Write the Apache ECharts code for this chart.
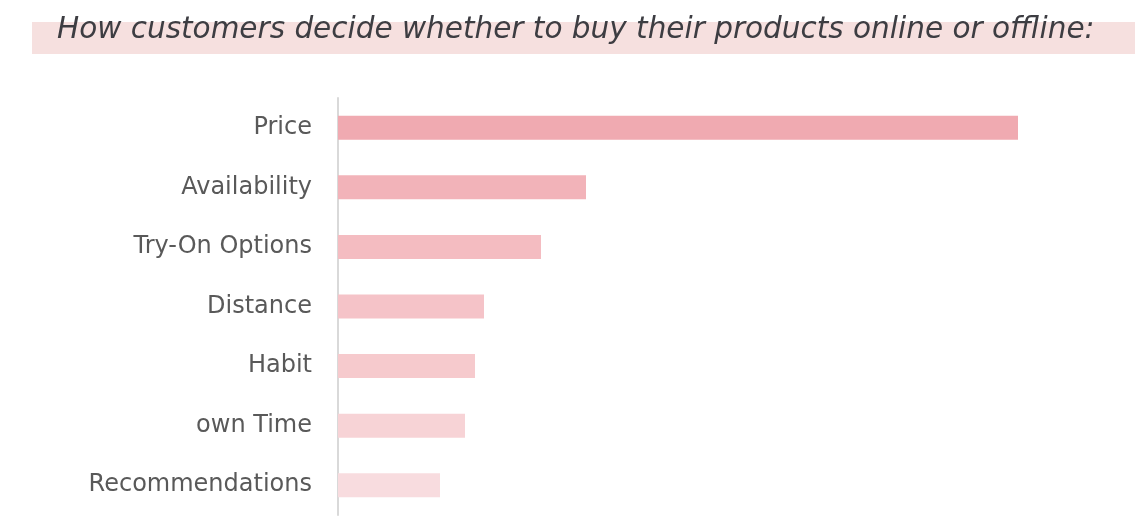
<!DOCTYPE html>
<html>
<head>
<meta charset="utf-8">
<script src="https://cdn.jsdelivr.net/npm/echarts@6/dist/echarts.min.js"></script>
<style>
  html, body { margin: 0; padding: 0; background: #fff; }
  #chart { width: 1146px; height: 522px; }
</style>
</head>
<body>
<div id="chart"></div>
<script>
const categories = ['Price', 'Availability', 'Try-On Options', 'Distance', 'Habit', 'own Time', 'Recommendations'];
const values = [68, 24.8, 20.3, 14.6, 13.7, 12.7, 10.2];
const barColors = ['#f0aab1', '#f2b3b9', '#f4bcc1', '#f5c3c8', '#f6cacd', '#f7d3d6', '#f8dcdf'];

const myChart = echarts.init(document.getElementById('chart'));
let option;

option = {
    animation: false,
    graphic: [
        {
            type: 'rect',
            z: -1,
            shape: { x: 32, y: 22, width: 1103, height: 32 },
            style: { fill: '#f6e0df' }
        }
    ],
    title: {
        text: 'How customers decide whether to buy their products online or offline:',
        left: 52,
        top: 10,
        textStyle: {
            fontFamily: 'DejaVu Sans',
            fontStyle: 'italic',
            fontWeight: 'normal',
            fontSize: 29.5,
            color: '#3d3d42'
        }
    },
    grid: {
        left: 338,
        right: 8,
        top: 98,
        bottom: 7
    },
    xAxis: {
        type: 'value',
        min: 0,
        max: 80,
        show: false
    },
    yAxis: {
        type: 'category',
        inverse: true,
        data: categories,
        axisLine: { show: true, lineStyle: { color: '#d9d9d9', width: 2 } },
        axisTick: { show: false },
        axisLabel: {
            margin: 26,
            fontFamily: 'DejaVu Sans',
            fontSize: 24,
            color: '#595959'
        }
    },
    series: [
        {
            type: 'bar',
            barWidth: 24,
            data: values.map((v, i) => ({ value: v, itemStyle: { color: barColors[i] } }))
        }
    ]
};

option && myChart.setOption(option);
</script>
</body>
</html>
